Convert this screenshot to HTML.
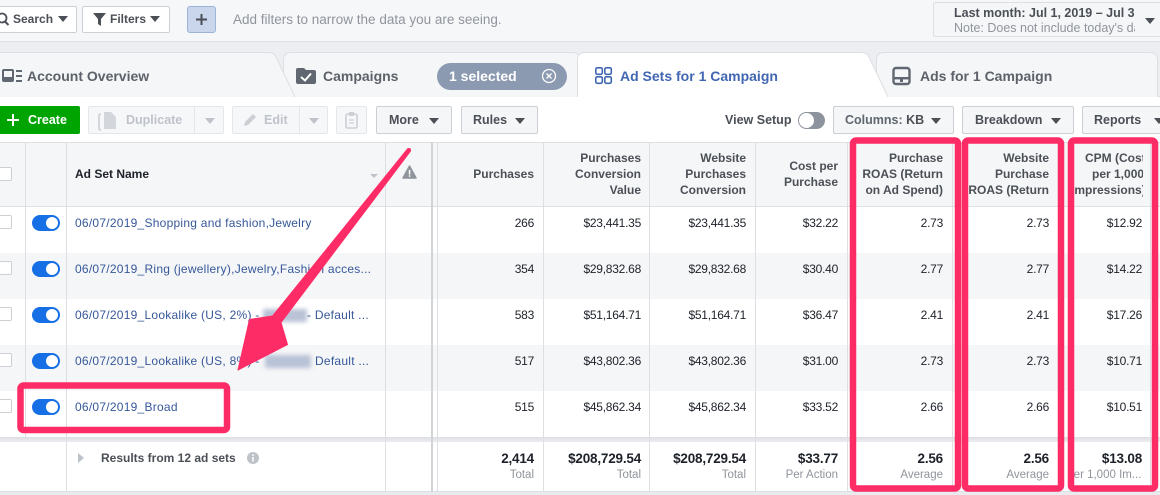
<!DOCTYPE html>
<html><head><meta charset="utf-8">
<style>
*{box-sizing:border-box;margin:0;padding:0}
html,body{width:1160px;height:495px;overflow:hidden}
body{position:relative;background:#fff;font-family:"Liberation Sans",Arial,sans-serif;font-size:12px;color:#1d2129}
.a{position:absolute}
.t{position:absolute;white-space:nowrap;line-height:16px;height:16px}
.b{font-weight:bold}
.hd{font-weight:bold;color:#4b4f56;text-align:right}
.nm{color:#365899;letter-spacing:0.25px;left:75px}
.num{letter-spacing:-0.25px;color:#1d2129}
.ft{font-weight:bold;font-size:13.5px;color:#1d2129;letter-spacing:-0.2px}
.sub{font-size:11.5px;color:#90949c}
.vl{position:absolute;width:1px;background:#dddfe2}
.btn{position:absolute;height:28px;top:106px;background:#f5f6f7;border:1px solid #ccd0d5;border-radius:2px}
.dis{background:#f6f7f9;border-color:#e4e6eb}
.bt{position:absolute;white-space:nowrap;line-height:16px;top:112px;font-weight:bold;font-size:12.5px;color:#4b4f56}
.car{position:absolute;width:0;height:0;border-left:5px solid transparent;border-right:5px solid transparent;border-top:6px solid #4b4f56}
.tog{position:absolute;left:32px;width:28px;height:16px;border-radius:8px;background:#166fe5}
.tog:after{content:"";position:absolute;right:2px;top:2px;width:12px;height:12px;border-radius:50%;background:#fff}
.cb{position:absolute;left:-2px;width:14px;height:14px;border:1px solid #ccd0d5;border-radius:2px;background:#fff}
.tab{position:absolute;white-space:nowrap;line-height:16px;top:68px;font-weight:bold;font-size:14px;color:#5d6169}
</style></head><body>

<!-- top bar -->
<div class="a" style="left:0;top:0;width:1160px;height:42px;background:#f6f7f9;border-bottom:1px solid #dddfe2"></div>
<div class="a" style="left:-10px;top:6px;width:87px;height:27px;background:#fff;border:1px solid #ccd0d5;border-radius:2px"></div>
<svg class="a" style="left:0;top:0" width="20" height="40"><circle cx="2" cy="18" r="4.5" fill="none" stroke="#4b4f56" stroke-width="1.8"/><line x1="5" y1="21.5" x2="8.5" y2="25" stroke="#4b4f56" stroke-width="2"/></svg>
<div class="t b" style="left:13px;top:11px;color:#4b4f56">Search</div>
<div class="car" style="left:58px;top:16px"></div>
<div class="a" style="left:82px;top:6px;width:88px;height:27px;background:#fff;border:1px solid #ccd0d5;border-radius:2px"></div>
<svg class="a" style="left:92px;top:12px" width="16" height="16"><path d="M1,1 H14 L9,7 V14 L6,12 V7 Z" fill="#4b4f56"/></svg>
<div class="t b" style="left:110px;top:11px;color:#4b4f56">Filters</div>
<div class="car" style="left:150px;top:16px"></div>
<div class="a" style="left:187px;top:6px;width:29px;height:27px;background:#c9d6ec;border:1px solid #9db3d8;border-radius:3px"></div>
<svg class="a" style="left:195px;top:13px" width="13" height="13"><path d="M6.5,1 V12 M1,6.5 H12" stroke="#4b4f56" stroke-width="2"/></svg>
<div class="t" style="left:233px;top:12px;font-size:13.5px;color:#90949c">Add filters to narrow the data you are seeing.</div>
<div class="a" style="left:933px;top:2px;width:240px;height:35px;background:#f5f6f7;border:1px solid #dddfe2;border-radius:2px"></div>
<div class="a" style="left:954px;top:2px;width:181px;height:34px;overflow:hidden">
  <div class="t b" style="left:0;top:3px;color:#4b4f56;font-size:12.5px">Last month: Jul 1, 2019 – Jul 31, 2019</div>
  <div class="t" style="left:0;top:18px;color:#90949c;font-size:12.5px">Note: Does not include today's data</div>
</div>
<div class="car" style="left:1145px;top:18px"></div>

<!-- tab strip -->
<div class="a" style="left:0;top:42px;width:1160px;height:55px;background:#eceef1"></div>
<div class="a" style="left:0;top:97px;width:1160px;height:45px;background:#fff"></div>
<svg class="a" style="left:0;top:0" width="1160" height="142">
 <line x1="0" y1="96.5" x2="1160" y2="96.5" stroke="#dddfe2"/>
 <path d="M876.5,97 V60 Q876.5,52.5 884,52.5 H1150 Q1157.5,52.5 1157.5,60 V97" fill="#f5f6f7" stroke="#dddfe2"/>
 <path d="M283.5,97 V60 Q283.5,52.5 291,52.5 H572 Q578,52.5 580,57 L598,97" fill="#f5f6f7" stroke="#dddfe2"/>
 <path d="M-5,97 V52.5 H268 Q274,52.5 276,57 L295,97" fill="#f5f6f7" stroke="#dddfe2"/>
 <path d="M577.5,98 V60 Q577.5,52.5 585,52.5 H861 Q867,52.5 869,57 L888,98 Z" fill="#fff"/>
 <path d="M577.5,97 V60 Q577.5,52.5 585,52.5 H861 Q867,52.5 869,57 L888,97" fill="none" stroke="#dddfe2"/>
 <!-- AO icon -->
 <rect x="2" y="69" width="12" height="13" rx="2" fill="#606770"/>
 <rect x="4" y="71" width="8" height="6" fill="#f5f6f7"/>
 <rect x="16" y="70" width="6" height="2" fill="#606770"/>
 <rect x="16" y="75" width="6" height="2" fill="#606770"/>
 <rect x="16" y="80" width="6" height="2" fill="#606770"/>
 <!-- campaigns folder -->
 <path d="M296,70 Q296,68 298,68 H304 L306,70 H314 Q316,70 316,72 V82 Q316,84 314,84 H298 Q296,84 296,82 Z" fill="#606770"/>
 <path d="M301,77 L305,80.5 L311,73.5" fill="none" stroke="#fff" stroke-width="2"/>
 <!-- ad sets icon -->
 <g fill="none" stroke="#4267b2" stroke-width="1.6">
  <rect x="595.8" y="67.8" width="6.5" height="6.5" rx="1.5"/>
  <rect x="604.8" y="67.8" width="6.5" height="6.5" rx="1.5"/>
  <rect x="595.8" y="76.8" width="6.5" height="6.5" rx="1.5"/>
  <rect x="604.8" y="76.8" width="6.5" height="6.5" rx="1.5"/>
 </g>
 <!-- ads icon -->
 <rect x="893.5" y="68" width="16" height="16" rx="2.5" fill="none" stroke="#606770" stroke-width="2.4"/>
 <rect x="894" y="77" width="15" height="2.4" fill="#606770"/>
 <rect x="900" y="79" width="3" height="3" fill="#606770"/>
</svg>
<div class="tab" style="left:27px">Account Overview</div>
<div class="tab" style="left:323px">Campaigns</div>
<div class="a" style="left:437px;top:63px;width:130px;height:27px;border-radius:14px;background:#8b9ab0"></div>
<div class="tab" style="left:449px;color:#fff">1 selected</div>
<svg class="a" style="left:541px;top:68px" width="16" height="16"><circle cx="8" cy="8" r="6.5" fill="none" stroke="#fff" stroke-width="1.3"/><path d="M5.5,5.5 L10.5,10.5 M10.5,5.5 L5.5,10.5" stroke="#fff" stroke-width="1.3"/></svg>
<div class="tab" style="left:620px;color:#4267b2">Ad Sets for 1 Campaign</div>
<div class="tab" style="left:920px">Ads for 1 Campaign</div>

<!-- toolbar -->
<div class="a" style="left:-4px;top:106px;width:84px;height:28px;background:#00a400;border-radius:2px"></div>
<svg class="a" style="left:7px;top:114px" width="12" height="12"><path d="M6,0 V12 M0,6 H12" stroke="#fff" stroke-width="2"/></svg>
<div class="bt" style="left:28px;color:#fff">Create</div>

<div class="btn dis" style="left:88px;width:136px"></div>
<svg class="a" style="left:98px;top:110px" width="22" height="22"><path d="M3,4 Q1,4 1,6 V18 Q1,20 3,20" fill="none" stroke="#d3d6db" stroke-width="2"/><path d="M6,2 H13 L18,7 V19 H6 Z" fill="#d3d6db"/></svg>
<div class="bt" style="left:126px;color:#bec3c9">Duplicate</div>
<div class="a" style="left:194px;top:107px;width:1px;height:26px;background:#e4e6eb"></div>
<div class="car" style="left:205px;top:118px;border-top-color:#bec3c9"></div>

<div class="btn dis" style="left:232px;width:96px"></div>
<svg class="a" style="left:242px;top:112px" width="16" height="16"><path d="M2,14 L3,10 L11,2 L14,5 L6,13 Z" fill="#ccd0d5"/></svg>
<div class="bt" style="left:264px;color:#bec3c9">Edit</div>
<div class="a" style="left:299px;top:107px;width:1px;height:26px;background:#e4e6eb"></div>
<div class="car" style="left:309px;top:118px;border-top-color:#bec3c9"></div>

<div class="btn dis" style="left:336px;width:31px"></div>
<svg class="a" style="left:345px;top:111px" width="14" height="18"><rect x="1" y="3" width="11" height="14" rx="1.5" fill="none" stroke="#ccd0d5" stroke-width="1.6"/><rect x="4" y="1" width="5" height="4" fill="#ccd0d5"/><path d="M4,9 H9 M4,12 H9" stroke="#ccd0d5" stroke-width="1.3"/></svg>

<div class="btn" style="left:376px;width:76px"></div>
<div class="bt" style="left:389px">More</div>
<div class="car" style="left:429px;top:118px"></div>
<div class="btn" style="left:461px;width:77px"></div>
<div class="bt" style="left:473px">Rules</div>
<div class="car" style="left:515px;top:118px"></div>

<div class="bt" style="left:725px">View Setup</div>
<div class="a" style="left:798px;top:112px;width:27px;height:17px;border-radius:9px;background:#8d949e"></div>
<div class="a" style="left:799px;top:113px;width:15px;height:15px;border-radius:50%;background:#fff"></div>

<div class="btn" style="left:833px;width:121px"></div>
<div class="bt" style="left:845px"><span style="color:#606770">Columns:</span> KB</div>
<div class="car" style="left:931px;top:118px"></div>
<div class="btn" style="left:962px;width:112px"></div>
<div class="bt" style="left:975px">Breakdown</div>
<div class="car" style="left:1051px;top:118px"></div>
<div class="btn" style="left:1082px;width:100px"></div>
<div class="bt" style="left:1094px">Reports</div>
<div class="car" style="left:1154px;top:118px"></div>

<!-- table backgrounds -->
<div class="a" style="left:0;top:142px;width:1160px;height:65px;background:#f5f6f7;border-top:1px solid #dddfe2;border-bottom:1px solid #dddfe2"></div>
<div class="a" style="left:0;top:253px;width:1160px;height:46px;background:#f5f6f7"></div>
<div class="a" style="left:0;top:345px;width:1160px;height:46px;background:#f5f6f7"></div>
<div class="a" style="left:0;top:437px;width:1160px;height:5px;background:linear-gradient(#dddfe2,#eceef1)"></div>
<div class="a" style="left:0;top:491px;width:1160px;height:1px;background:#dddfe2"></div>
<div class="a" style="left:0;top:492px;width:1160px;height:3px;background:#e9ebee"></div>

<!-- vertical lines -->
<div class="vl" style="left:25px;top:142px;height:295px"></div>
<div class="vl" style="left:66px;top:142px;height:350px"></div>
<div class="vl" style="left:385px;top:142px;height:350px"></div>
<div class="vl" style="left:431px;top:142px;height:350px;width:2px;background:#d0d3d8"></div>
<div class="vl" style="left:437px;top:142px;height:350px"></div>
<div class="vl" style="left:543px;top:142px;height:350px"></div>
<div class="vl" style="left:649px;top:142px;height:350px"></div>
<div class="vl" style="left:755px;top:142px;height:350px"></div>
<div class="vl" style="left:847px;top:142px;height:350px"></div>
<div class="vl" style="left:952px;top:142px;height:350px"></div>
<div class="vl" style="left:1058px;top:142px;height:350px"></div>
<div class="vl" style="left:1150px;top:142px;height:350px"></div>

<!-- header -->
<div class="cb" style="top:167px"></div>
<div class="t b" style="left:75px;top:166px;color:#1d2129">Ad Set Name</div>
<div class="a" style="left:370px;top:174px;width:0;height:0;border-left:4px solid transparent;border-right:4px solid transparent;border-top:4px solid #bec3c9"></div>
<svg class="a" style="left:402px;top:165px" width="15" height="14"><path d="M7.5,1 L14,13 H1 Z" fill="#90949c" stroke="#90949c" stroke-linejoin="round" stroke-width="1.5"/><rect x="6.8" y="5" width="1.5" height="4.5" fill="#fff"/><rect x="6.8" y="10.3" width="1.5" height="1.5" fill="#fff"/></svg>

<div class="t hd" style="right:626px;top:166px">Purchases</div>
<div class="t hd" style="right:519px;top:150px">Purchases</div>
<div class="t hd" style="right:519px;top:166px">Conversion</div>
<div class="t hd" style="right:519px;top:182px">Value</div>
<div class="t hd" style="right:414px;top:150px">Website</div>
<div class="t hd" style="right:414px;top:166px">Purchases</div>
<div class="t hd" style="right:414px;top:182px">Conversion</div>
<div class="t hd" style="right:322px;top:158px">Cost per</div>
<div class="t hd" style="right:322px;top:174px">Purchase</div>
<div class="t hd" style="right:217px;top:150px">Purchase</div>
<div class="t hd" style="right:217px;top:166px">ROAS (Return</div>
<div class="t hd" style="right:217px;top:182px">on Ad Spend)</div>
<div class="t hd" style="right:111px;top:150px">Website</div>
<div class="t hd" style="right:111px;top:166px">Purchase</div>
<div class="t hd" style="right:111px;top:182px">ROAS (Return</div>
<div class="a" style="left:1074px;top:143px;width:69px;height:63px;overflow:hidden">
  <div class="t b" style="left:11px;top:7px;color:#4b4f56">CPM (Cost</div>
  <div class="t b" style="left:18px;top:23px;color:#4b4f56">per 1,000</div>
  <div class="t b" style="left:-3px;top:39px;color:#4b4f56">Impressions)</div>
</div>

<!-- rows -->
<div class="cb" style="top:215px"></div><div class="tog" style="top:215px"></div>
<div class="t nm" style="top:215px">06/07/2019_Shopping and fashion,Jewelry</div>
<div class="t num" style="right:626px;top:215px">266</div>
<div class="t num" style="right:519px;top:215px">$23,441.35</div>
<div class="t num" style="right:414px;top:215px">$23,441.35</div>
<div class="t num" style="right:322px;top:215px">$32.22</div>
<div class="t num" style="right:217px;top:215px">2.73</div>
<div class="t num" style="right:111px;top:215px">2.73</div>
<div class="t num" style="right:18px;top:215px">$12.92</div>

<div class="cb" style="top:261px"></div><div class="tog" style="top:261px"></div>
<div class="t nm" style="top:261px">06/07/2019_Ring (jewellery),Jewelry,Fashion acces...</div>
<div class="t num" style="right:626px;top:261px">354</div>
<div class="t num" style="right:519px;top:261px">$29,832.68</div>
<div class="t num" style="right:414px;top:261px">$29,832.68</div>
<div class="t num" style="right:322px;top:261px">$30.40</div>
<div class="t num" style="right:217px;top:261px">2.77</div>
<div class="t num" style="right:111px;top:261px">2.77</div>
<div class="t num" style="right:18px;top:261px">$14.22</div>

<div class="cb" style="top:307px"></div><div class="tog" style="top:307px"></div>
<div class="t nm" style="top:307px">06/07/2019_Lookalike (US, 2%) -</div>
<div class="a" style="left:263px;top:309px;width:44px;height:13px;background:#b9c2d6;filter:blur(2px)"></div>
<div class="t nm" style="left:307px;top:307px">- Default ...</div>
<div class="t num" style="right:626px;top:307px">583</div>
<div class="t num" style="right:519px;top:307px">$51,164.71</div>
<div class="t num" style="right:414px;top:307px">$51,164.71</div>
<div class="t num" style="right:322px;top:307px">$36.47</div>
<div class="t num" style="right:217px;top:307px">2.41</div>
<div class="t num" style="right:111px;top:307px">2.41</div>
<div class="t num" style="right:18px;top:307px">$17.26</div>

<div class="cb" style="top:353px"></div><div class="tog" style="top:353px"></div>
<div class="t nm" style="top:353px">06/07/2019_Lookalike (US, 8%) -</div>
<div class="a" style="left:265px;top:355px;width:46px;height:13px;background:#b9c2d6;filter:blur(2px)"></div>
<div class="t nm" style="left:315px;top:353px">Default ...</div>
<div class="t num" style="right:626px;top:353px">517</div>
<div class="t num" style="right:519px;top:353px">$43,802.36</div>
<div class="t num" style="right:414px;top:353px">$43,802.36</div>
<div class="t num" style="right:322px;top:353px">$31.00</div>
<div class="t num" style="right:217px;top:353px">2.73</div>
<div class="t num" style="right:111px;top:353px">2.73</div>
<div class="t num" style="right:18px;top:353px">$10.71</div>

<div class="cb" style="top:399px"></div><div class="tog" style="top:399px"></div>
<div class="t nm" style="top:399px">06/07/2019_Broad</div>
<div class="t num" style="right:626px;top:399px">515</div>
<div class="t num" style="right:519px;top:399px">$45,862.34</div>
<div class="t num" style="right:414px;top:399px">$45,862.34</div>
<div class="t num" style="right:322px;top:399px">$33.52</div>
<div class="t num" style="right:217px;top:399px">2.66</div>
<div class="t num" style="right:111px;top:399px">2.66</div>
<div class="t num" style="right:18px;top:399px">$10.51</div>

<!-- footer -->
<div class="a" style="left:78px;top:453px;width:0;height:0;border-top:5px solid transparent;border-bottom:5px solid transparent;border-left:6px solid #bec3c9"></div>
<div class="t b" style="left:101px;top:450px;color:#4b4f56">Results from 12 ad sets</div>
<svg class="a" style="left:246px;top:451px" width="14" height="14"><circle cx="7" cy="7" r="6" fill="#bec3c9"/><rect x="6.2" y="6" width="1.6" height="4.5" fill="#fff"/><rect x="6.2" y="3.3" width="1.6" height="1.6" fill="#fff"/></svg>

<div class="t ft" style="right:626px;top:451px">2,414</div>
<div class="t sub" style="right:626px;top:467px">Total</div>
<div class="t ft" style="right:519px;top:451px">$208,729.54</div>
<div class="t sub" style="right:519px;top:467px">Total</div>
<div class="t ft" style="right:414px;top:451px">$208,729.54</div>
<div class="t sub" style="right:414px;top:467px">Total</div>
<div class="t ft" style="right:322px;top:451px">$33.77</div>
<div class="t sub" style="right:322px;top:467px">Per Action</div>
<div class="t ft" style="right:217px;top:451px">2.56</div>
<div class="t sub" style="right:217px;top:467px">Average</div>
<div class="t ft" style="right:111px;top:451px">2.56</div>
<div class="t sub" style="right:111px;top:467px">Average</div>
<div class="t ft" style="right:18px;top:451px">$13.08</div>
<div class="a" style="left:1074px;top:466px;width:69px;height:18px;overflow:hidden">
  <div class="t sub" style="left:-8px;top:1px">Per 1,000 Im...</div>
</div>

<!-- annotations -->
<svg class="a" style="left:0;top:0" width="1160" height="495">
 <g fill="none" stroke="#fe2c66" stroke-width="6.5" stroke-linejoin="round">
  <rect x="853" y="140.5" width="105" height="348" rx="3"/>
  <rect x="965" y="140.5" width="96" height="348" rx="3"/>
  <rect x="1071" y="140.5" width="84" height="348" rx="3"/>
  <rect x="20.5" y="385.5" width="206.5" height="44.5" rx="3"/>
 </g>
 <path d="M410.4,151.2 L281,322.5 L287.5,344.5 L238,370 L249.5,319.5 L272.6,316 L407.6,148.8 Z" fill="#fe2c66" stroke="#fe2c66" stroke-width="1" stroke-linejoin="round"/>
 <circle cx="409" cy="150" r="2" fill="#fe2c66"/>
</svg>
</body></html>
